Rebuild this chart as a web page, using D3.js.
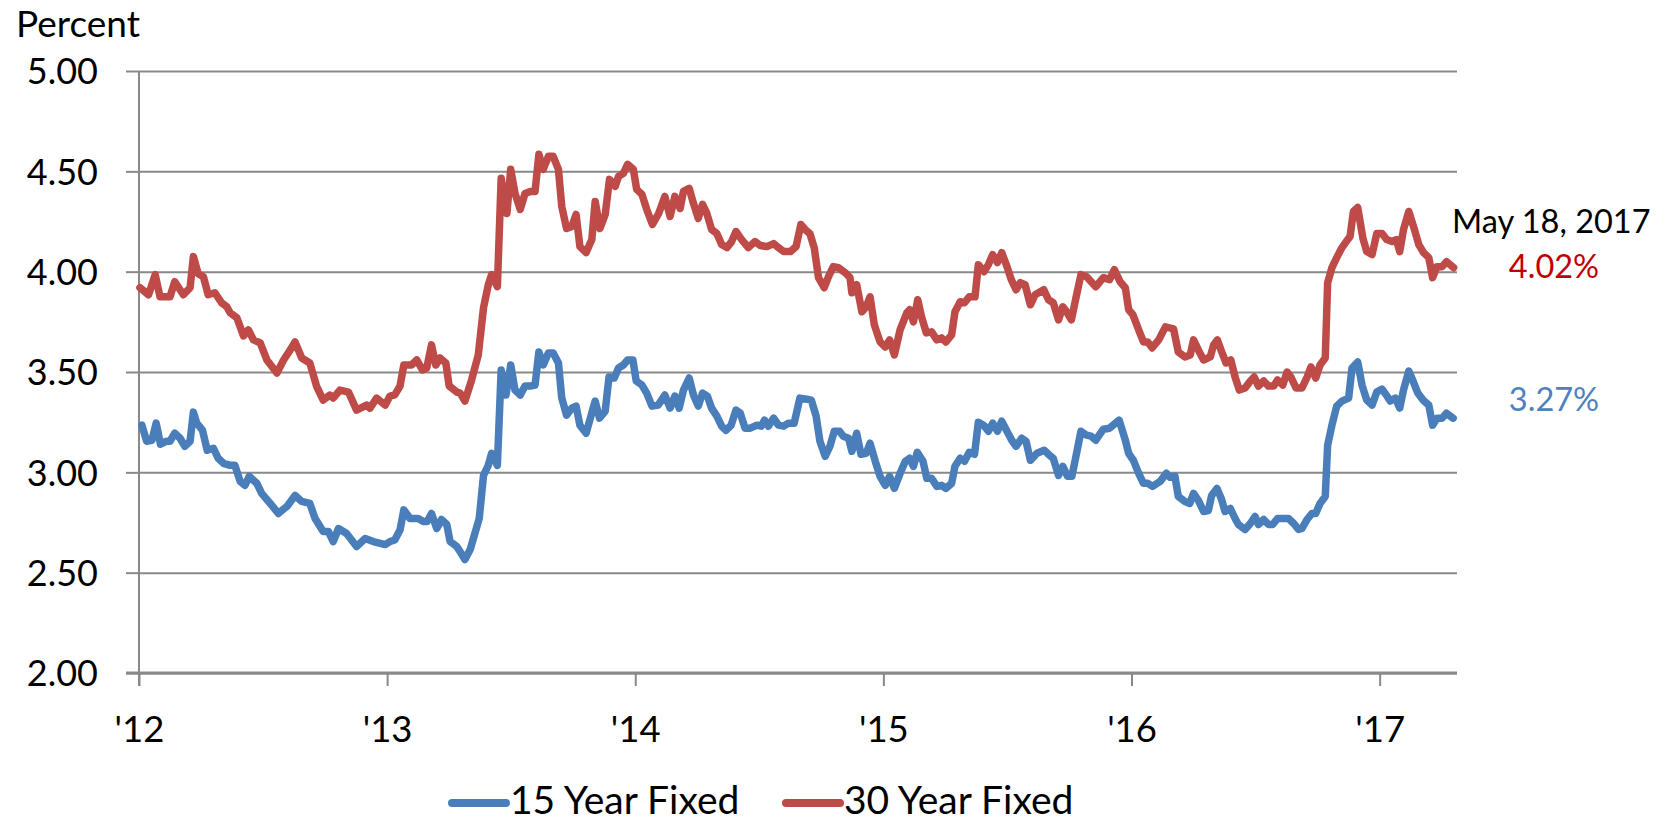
<!DOCTYPE html>
<html>
<head>
<meta charset="utf-8">
<script src="https://cdn.jsdelivr.net/npm/d3@7"></script>
<style>
body { margin: 0; background: #fff; }
svg { display: block; font-family: Lato, "Open Sans", sans-serif; }
.axis .domain { display: none; }
</style>
</head>
<body>
<svg id="chart" width="1672" height="821"></svg>
<script>
var seriesNames = ["15 Year Fixed", "30 Year Fixed"];
var seriesColors = ["#4a7ebb", "#be4b48"];
var yearLabels = ["'12", "'13", "'14", "'15", "'16", "'17"];
var yearWeeks = [0, 52, 104, 156, 208, 260];
var yTicks = [2, 2.5, 3, 3.5, 4, 4.5, 5];
var lastDate = "May 18, 2017";
var lastRates = ["3.27%", "4.02%"];

// [week index from Jan 2012, rate]
var fixed15 = [[0.6,3.235],[1.6,3.155],[2.7,3.16],[3.6,3.245],[4.5,3.14],[5.8,3.155],[6.5,3.155],[7.5,3.195],[8.6,3.17],[9.6,3.13],[10.7,3.155],[11.4,3.30],[12.1,3.245],[13.3,3.21],[14.3,3.11],[15.6,3.12],[16.6,3.07],[17.7,3.045],[19.1,3.035],[20.1,3.035],[21.2,2.955],[22.2,2.935],[23.1,2.98],[24.7,2.945],[25.7,2.895],[27.5,2.845],[29.2,2.795],[31,2.83],[32.7,2.885],[34.1,2.855],[35.8,2.845],[36.9,2.77],[38.6,2.705],[39.7,2.705],[40.7,2.655],[41.8,2.72],[43.5,2.695],[45.6,2.63],[47.4,2.67],[49.1,2.655],[51.6,2.64],[52.6,2.655],[53.6,2.663],[54.7,2.713],[55.5,2.813],[56.8,2.77],[58.5,2.77],[59.6,2.755],[60.4,2.755],[61.3,2.795],[62.4,2.72],[63.4,2.765],[64.5,2.74],[65.2,2.655],[66.6,2.63],[67.3,2.605],[68.3,2.565],[69.4,2.615],[71.3,2.77],[72.2,2.985],[73.2,3.035],[73.9,3.095],[75.1,3.035],[75.9,3.51],[76.9,3.385],[77.9,3.535],[78.8,3.41],[79.9,3.385],[80.9,3.43],[82,3.43],[83,3.435],[83.8,3.60],[84.7,3.535],[85.8,3.595],[86.8,3.595],[87.9,3.545],[88.6,3.37],[89.6,3.285],[90.7,3.32],[91.6,3.33],[92.4,3.235],[93.7,3.195],[94.7,3.28],[95.6,3.355],[96.5,3.27],[97.7,3.305],[98.5,3.475],[99.6,3.47],[100.5,3.52],[101.5,3.535],[102.4,3.56],[103.5,3.56],[104.2,3.455],[105.4,3.435],[106.4,3.395],[107.5,3.33],[108.8,3.335],[110.2,3.385],[111.3,3.32],[112.3,3.38],[113.2,3.32],[114.1,3.41],[115.3,3.47],[116.2,3.385],[117.2,3.33],[118.1,3.395],[119.1,3.38],[120,3.32],[121.1,3.28],[122.1,3.23],[123,3.21],[124.1,3.235],[125.1,3.31],[126,3.295],[127,3.22],[128.1,3.22],[129.5,3.235],[130.4,3.23],[131.1,3.26],[131.9,3.23],[133,3.27],[134,3.235],[135.1,3.23],[136.1,3.245],[137.3,3.245],[138.5,3.37],[139.9,3.365],[140.9,3.36],[141.9,3.28],[142.7,3.155],[143.8,3.08],[144.8,3.13],[145.7,3.205],[146.8,3.205],[147.6,3.18],[148.7,3.17],[149.4,3.105],[150.4,3.195],[151.3,3.09],[152.4,3.095],[153.2,3.145],[154.3,3.055],[155.3,2.98],[156.4,2.935],[157.3,2.98],[158.3,2.92],[159.5,2.995],[160.6,3.055],[161.5,3.07],[162.3,3.03],[163.1,3.10],[164.3,3.055],[165.1,2.97],[166.1,2.97],[167.2,2.93],[168.2,2.935],[169.1,2.92],[170.3,2.945],[171,3.03],[172.1,3.07],[173,3.055],[174,3.10],[175.1,3.09],[175.9,3.25],[177,3.235],[178,3.205],[178.9,3.245],[179.9,3.205],[180.8,3.255],[181.9,3.205],[182.9,3.16],[183.8,3.13],[185,3.17],[185.9,3.155],[186.8,3.06],[188.2,3.095],[189.7,3.11],[190.6,3.09],[191.6,3.07],[192.7,2.985],[193.6,3.03],[194.6,2.98],[195.5,2.98],[196.4,3.085],[197.4,3.205],[198.6,3.185],[199.5,3.18],[200.5,3.16],[202.1,3.215],[203.4,3.22],[204.4,3.24],[205.4,3.26],[206.7,3.16],[207.4,3.095],[208.4,3.06],[209.5,2.995],[210.5,2.945],[211.4,2.945],[212.4,2.93],[214,2.955],[215.3,2.995],[216.1,2.975],[217.1,2.98],[217.8,2.88],[219.2,2.855],[220.2,2.845],[221,2.895],[222,2.86],[223.1,2.805],[224.1,2.81],[224.8,2.885],[225.9,2.92],[226.8,2.87],[227.6,2.805],[228.7,2.82],[229.7,2.77],[230.4,2.74],[231.8,2.715],[232.9,2.745],[233.9,2.78],[234.6,2.74],[235.7,2.765],[236.7,2.74],[237.6,2.74],[238.6,2.77],[239.9,2.77],[240.9,2.77],[242,2.745],[243,2.715],[243.7,2.72],[244.8,2.765],[245.8,2.795],[246.6,2.795],[247.5,2.845],[248.6,2.88],[249.1,3.135],[250,3.235],[251,3.33],[252.1,3.355],[253.5,3.37],[254.2,3.52],[255.4,3.55],[256.3,3.435],[257.3,3.36],[258.4,3.335],[259.4,3.40],[260.5,3.415],[261.4,3.385],[262.2,3.355],[263.3,3.37],[264.2,3.32],[265,3.41],[266.1,3.505],[267,3.455],[268,3.395],[269.1,3.36],[270.3,3.335],[271.1,3.235],[272,3.27],[273.1,3.27],[274,3.295],[275.4,3.27]];

var fixed30 = [[0.2,3.92],[2,3.885],[3.4,3.985],[4.4,3.875],[6.5,3.875],[7.5,3.95],[9.3,3.885],[10.7,3.92],[11.4,4.075],[12.4,3.99],[13.5,3.975],[14.5,3.885],[15.9,3.895],[17.3,3.845],[18.4,3.825],[19.1,3.795],[20.5,3.77],[21.9,3.68],[22.9,3.71],[24,3.66],[25.4,3.645],[26.8,3.56],[28.9,3.495],[30.3,3.56],[31.7,3.61],[32.7,3.65],[34.1,3.57],[35.8,3.545],[37.2,3.43],[38.6,3.36],[40,3.385],[40.7,3.37],[42.1,3.41],[43.9,3.40],[45.6,3.31],[47.7,3.335],[48.4,3.32],[49.8,3.37],[51.6,3.335],[52.6,3.38],[53.6,3.386],[54.7,3.43],[55.5,3.535],[57.1,3.535],[58.2,3.56],[59.4,3.51],[60.3,3.52],[61.3,3.635],[62.2,3.535],[63.1,3.57],[64.3,3.545],[65,3.43],[66.6,3.40],[67.3,3.395],[68.3,3.355],[69.7,3.46],[71.1,3.585],[72.2,3.82],[73.2,3.935],[73.9,3.985],[75.1,3.925],[75.9,4.465],[77.1,4.29],[77.9,4.51],[78.8,4.39],[79.9,4.31],[80.9,4.39],[82,4.40],[83,4.40],[83.8,4.585],[84.7,4.51],[85.8,4.575],[86.8,4.575],[87.9,4.51],[88.6,4.325],[89.6,4.215],[90.7,4.225],[91.6,4.285],[92.4,4.125],[93.7,4.095],[94.9,4.16],[95.6,4.35],[96.6,4.215],[97.7,4.285],[98.6,4.46],[99.8,4.425],[100.5,4.475],[101.5,4.49],[102.4,4.535],[103.6,4.51],[104.3,4.41],[105.4,4.385],[106.4,4.31],[107.6,4.235],[108.9,4.29],[110.2,4.375],[111.3,4.275],[112.3,4.375],[113.4,4.315],[114.1,4.40],[115.3,4.415],[116.2,4.34],[117.2,4.265],[118.1,4.335],[119,4.29],[120,4.21],[121.1,4.19],[122.1,4.135],[123.2,4.12],[124.2,4.15],[125.1,4.20],[126.3,4.16],[127.7,4.12],[129.1,4.15],[130.2,4.13],[131.6,4.125],[133,4.14],[134,4.12],[135.1,4.10],[136.5,4.10],[137.7,4.125],[138.7,4.235],[139.6,4.21],[140.6,4.19],[141.5,4.12],[142.4,3.97],[143.6,3.92],[144.5,3.975],[145.5,4.025],[146.6,4.02],[148,3.995],[149,3.97],[149.4,3.895],[150.4,3.935],[151.5,3.80],[152.4,3.825],[153.2,3.875],[154.1,3.735],[155.3,3.65],[156.4,3.625],[157.3,3.66],[158.3,3.585],[159.5,3.71],[160.9,3.795],[161.5,3.81],[162.3,3.75],[163.2,3.86],[164,3.775],[165,3.695],[166.1,3.70],[167.2,3.66],[168.2,3.67],[169.1,3.65],[170.3,3.685],[171,3.80],[172.1,3.85],[173,3.845],[174,3.875],[175.2,3.875],[175.9,4.035],[177.1,4.00],[178,4.035],[178.9,4.085],[179.9,4.045],[180.8,4.095],[181.9,4.025],[182.8,3.96],[183.8,3.91],[184.7,3.945],[185.7,3.935],[186.8,3.835],[187.8,3.885],[189.6,3.91],[190.6,3.86],[191.6,3.845],[192.7,3.76],[193.6,3.825],[194.4,3.80],[195.4,3.76],[196.4,3.875],[197.4,3.985],[198.6,3.975],[200.5,3.925],[202.1,3.97],[203.4,3.96],[204.4,4.01],[205.6,3.95],[206.7,3.92],[207.4,3.81],[208.3,3.785],[209.5,3.71],[210.5,3.65],[211.4,3.65],[212.3,3.62],[213.7,3.66],[215.1,3.725],[216.8,3.715],[217.8,3.60],[219.2,3.575],[220.3,3.585],[221,3.66],[222,3.61],[223.1,3.56],[224.5,3.575],[225.2,3.635],[226,3.66],[226.9,3.60],[227.8,3.545],[228.8,3.56],[229.7,3.475],[230.6,3.41],[231.8,3.42],[232.9,3.455],[233.7,3.475],[234.6,3.43],[235.7,3.455],[236.7,3.43],[237.8,3.43],[238.6,3.46],[239.7,3.435],[240.6,3.50],[241.4,3.475],[242.5,3.42],[243.7,3.42],[244.8,3.475],[245.6,3.525],[246.6,3.47],[247.5,3.535],[248.6,3.57],[249.1,3.945],[250,4.02],[251,4.07],[252.1,4.12],[253,4.15],[253.8,4.175],[254.5,4.30],[255.4,4.32],[256.5,4.165],[257.3,4.10],[258.4,4.085],[259.4,4.19],[260.5,4.19],[261.5,4.16],[262.6,4.15],[263.5,4.16],[264.2,4.10],[265,4.21],[266.1,4.30],[267.1,4.225],[268.2,4.135],[269.2,4.095],[270.3,4.07],[271.1,3.97],[272,4.025],[273.1,4.025],[274,4.05],[275.5,4.02]];

var svg = d3.select("#chart"),
    plot = {left: 139, right: 1457, top: 71, bottom: 673};

var x = d3.scaleLinear().domain([0, 276]).range([plot.left, plot.right - 1]);
var y = d3.scaleLinear().domain([2, 5]).range([plot.bottom, plot.top]);

// gridlines
svg.append("g")
    .attr("class", "axis")
    .attr("transform", "translate(" + plot.left + ",0)")
    .call(d3.axisLeft(y).tickValues(yTicks).tickSize(-(plot.right - plot.left)).tickFormat(""))
  .selectAll("line")
    .attr("stroke", "#898989")
    .attr("stroke-width", 2);

// y labels + outer ticks
var yAxis = svg.append("g")
    .attr("class", "axis")
    .attr("transform", "translate(" + plot.left + ",0)")
    .call(d3.axisLeft(y).tickValues(yTicks).tickSize(13).tickPadding(28).tickFormat(d3.format(".2f")));
yAxis.selectAll("line").attr("stroke", "#898989").attr("stroke-width", 2);
yAxis.selectAll("text")
    .attr("font-size", 36)
    .attr("font-family", "Lato")
    .attr("fill", "#000")
    .attr("dy", "0.36em");

// x axis
var xAxis = svg.append("g")
    .attr("class", "axis")
    .attr("transform", "translate(0," + plot.bottom + ")")
    .call(d3.axisBottom(x).tickValues(yearWeeks).tickSize(13).tickPadding(30)
      .tickFormat(function(d, i) { return yearLabels[i]; }));
xAxis.selectAll("line").attr("stroke", "#898989").attr("stroke-width", 2);
xAxis.selectAll("text")
    .attr("font-size", 36.5)
    .attr("font-family", "Lato")
    .attr("fill", "#000");

// axis lines
svg.append("line")
    .attr("x1", plot.left).attr("x2", plot.left)
    .attr("y1", plot.top).attr("y2", plot.bottom + 13)
    .attr("stroke", "#898989").attr("stroke-width", 2);
svg.append("line")
    .attr("x1", plot.left - 13).attr("x2", plot.right)
    .attr("y1", plot.bottom).attr("y2", plot.bottom)
    .attr("stroke", "#898989").attr("stroke-width", 3);

svg.append("text")
    .attr("x", 16)
    .attr("y", 37)
    .attr("font-size", 37)
    .attr("fill", "#000")
    .text("Percent");

var line = d3.line()
    .x(function(d) { return x(d[0]); })
    .y(function(d) { return y(d[1]); });

[fixed15, fixed30].forEach(function(data, i) {
  svg.append("path")
      .datum(data)
      .attr("fill", "none")
      .attr("stroke", seriesColors[i])
      .attr("stroke-width", 7.5)
      .attr("stroke-linejoin", "round")
      .attr("stroke-linecap", "round")
      .attr("d", line);
});

// end labels
svg.append("text")
    .attr("x", 1452)
    .attr("y", 233)
    .attr("font-size", 32.5)
    .attr("fill", "#000")
    .text(lastDate);
svg.append("text")
    .attr("x", 1554)
    .attr("y", 278)
    .attr("text-anchor", "middle")
    .attr("font-size", 32.5)
    .attr("fill", "#c00000")
    .text(lastRates[1]);
svg.append("text")
    .attr("x", 1554)
    .attr("y", 411)
    .attr("text-anchor", "middle")
    .attr("font-size", 32.5)
    .attr("fill", "#4f81bd")
    .text(lastRates[0]);

// legend
var legendX = [450, 784];
var legend = svg.append("g")
  .selectAll("g")
  .data(seriesNames)
  .enter().append("g")
    .attr("transform", function(d, i) { return "translate(" + legendX[i] + ",803)"; });

legend.append("line")
    .attr("x1", 2).attr("x2", 56)
    .attr("stroke", function(d, i) { return seriesColors[i]; })
    .attr("stroke-width", 8)
    .attr("stroke-linecap", "round");

legend.append("text")
    .attr("x", 60)
    .attr("y", 11)
    .attr("font-size", 39)
    .attr("fill", "#000")
    .text(function(d) { return d; });
</script>
</body>
</html>
